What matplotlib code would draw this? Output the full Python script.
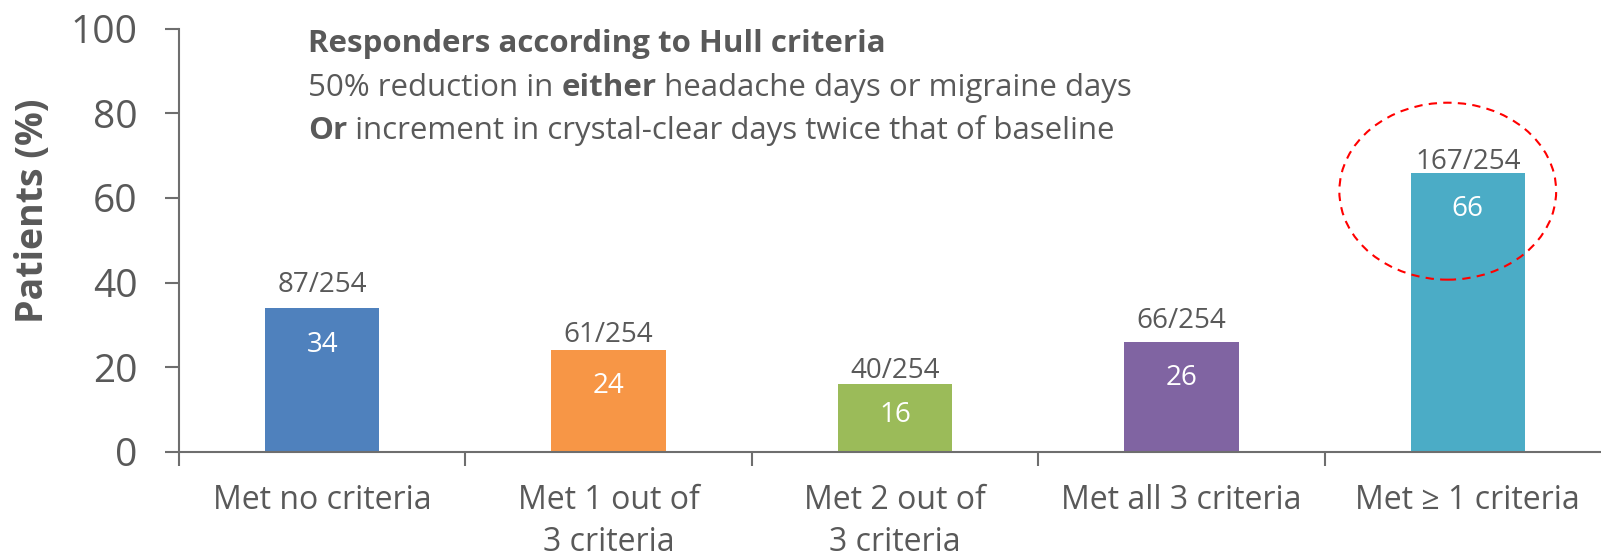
import numpy as np
import matplotlib
matplotlib.use('Agg')
import matplotlib.pyplot as plt
from matplotlib.patches import Ellipse

plt.rcParams['font.family'] = ['Open Sans', 'DejaVu Sans']

categories = ['Met no criteria', 'Met 1 out of\n3 criteria', 'Met 2 out of\n3 criteria',
              'Met all 3 criteria', 'Met \u2265 1 criteria']
percent = [34, 24, 16, 26, 66]
counts = ['87/254', '61/254', '40/254', '66/254', '167/254']
colors = ['#4F81BD', '#F79646', '#9BBB59', '#8064A2', '#4BACC6']

# label offsets in points (labels were placed by hand in the original)
top_off = [11.5, 5.8, 4.3, 10, 2.9]
inner_off = [-32, -31, -27.5, -31, -31]

grey = '#595959'
axgrey = '#6e6e6e'

fig = plt.figure(figsize=(16.01, 5.6), dpi=100)
ax = fig.add_axes([179/1601, 1 - 452/560, (1611 - 179)/1601, (452 - 28.6)/560])

x = np.arange(len(categories))
bars = ax.bar(x, percent, width=0.4, color=colors, zorder=2)

for xi, v, c, to, io in zip(x, percent, counts, top_off, inner_off):
    ax.annotate(c, xy=(xi, v), xytext=(0, to), textcoords='offset points',
                ha='center', va='baseline', fontsize=20, color=grey, zorder=4)
    ax.annotate(str(v), xy=(xi, v), xytext=(0, io), textcoords='offset points',
                ha='center', va='baseline', fontsize=20, color='white', zorder=4)

ax.set_xlim(-0.5, 4.5)
ax.set_ylim(0, 100)
ax.set_yticks([0, 20, 40, 60, 80, 100])
ax.set_xticks(x)
ax.set_xticklabels(categories, fontsize=23, color=grey, linespacing=1.35)
ax.set_xticks(np.arange(-0.5, 5, 1), minor=True)
ax.tick_params(axis='x', which='major', length=0, pad=23)
ax.tick_params(axis='x', which='minor', length=10, width=1.5, color=axgrey, direction='out')
ax.tick_params(axis='y', length=10, width=1.5, color=axgrey, labelsize=28, labelcolor=grey, pad=20)
fig.text(33/1601, 1 - 211/560, 'Patients (%)', rotation=90, fontsize=27, fontweight='bold',
         color=grey, ha='center', va='center')

for s in ['top', 'right']:
    ax.spines[s].set_visible(False)
for s in ['left', 'bottom']:
    ax.spines[s].set_color(axgrey)
    ax.spines[s].set_linewidth(1.5)

# dashed ellipse around the last bar
ell = Ellipse((3.93, 61.6), 0.757, 41.8, fill=False, edgecolor='red',
              linestyle=(0, (4, 3)), linewidth=1.5, zorder=3)
ax.add_patch(ell)

# annotation text, some words in bold
lines = [
    [('Responders according to Hull criteria', 'bold')],
    [('50% reduction in ', 'normal'), ('either', 'bold'), (' headache days or migraine days', 'normal')],
    [('Or', 'bold'), (' increment in crystal-clear days twice that of baseline', 'normal')],
]
line_y = [44, 88, 131]
for parts, yp in zip(lines, line_y):
    prev = None
    for txt, w in parts:
        if prev is None:
            prev = fig.text(308/1601, 1 - yp/560, txt, fontsize=22.5, fontweight=w,
                            color=grey, ha='left', va='center')
        else:
            prev = ax.annotate(txt, xy=(1, 0), xycoords=prev, ha='left', va='bottom',
                               fontsize=22.5, fontweight=w, color=grey)

fig.savefig('out.png', dpi=100)
